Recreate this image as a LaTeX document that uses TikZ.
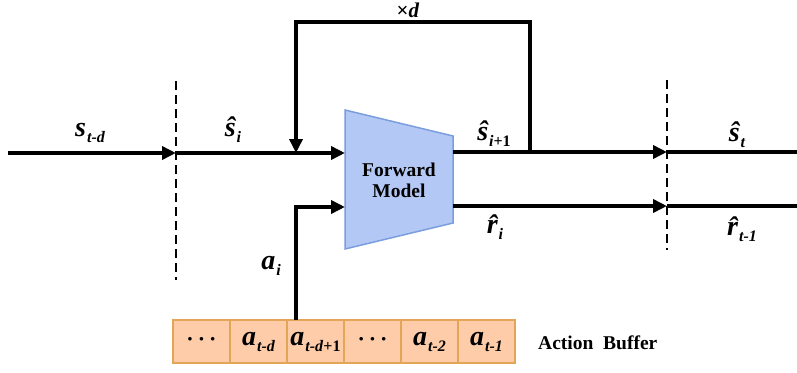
\documentclass[tikz,border=0pt]{standalone}
\usepackage{fontspec}
\setmainfont{Liberation Serif}
\usetikzlibrary{arrows.meta}
\definecolor{fmfill}{RGB}{180,200,246}
\definecolor{fmborder}{RGB}{122,158,221}
\definecolor{buffill}{RGB}{255,204,170}
\definecolor{bufborder}{RGB}{227,166,89}
\newcommand\vl[2]{{\fontsize{28}{28}\selectfont\bfseries\itshape #1}\kern1pt\raisebox{-6pt}{\fontsize{16}{16}\selectfont\bfseries\itshape #2}}
\newcommand\dotsrow{{\fontsize{22}{22}\selectfont\bfseries ·\hspace{4pt}·\hspace{4pt}·}}
\begin{document}
\begin{tikzpicture}[x=1pt,y=-1pt,
  conn/.style={line width=4pt},
  arr/.style={conn,-{Triangle[length=14pt,width=13pt]}},
  sep/.style={line width=2.8pt,dash pattern=on 9pt off 5pt},
  lab/.style={inner sep=0pt},
  cell/.style={draw=bufborder,fill=buffill,line width=2pt,minimum width=57pt,minimum height=43pt,inner sep=0pt},
  txt/.style={font=\fontsize{19.5}{22}\selectfont\bfseries,align=center,inner sep=0pt}]
\useasboundingbox (0,0) rectangle (797,372);
% separators
\coordinate (sepAtop) at (176,81);
\coordinate (sepAbot) at (176,280);
\coordinate (sepBtop) at (667,80);
\coordinate (sepBbot) at (667,250);
\draw[sep] (sepAtop) -- (sepAbot);
\draw[sep] (sepBtop) -- (sepBbot);
% forward model
\draw[fill=fmfill,draw=fmborder,line width=1.5pt] (345,110) -- (453,136) -- (453,223) -- (345,249) -- cycle;
\node[txt] (fm) at (399,180) {Forward\\[-1pt]Model};
\coordinate (fmin1) at (345,153);
\coordinate (fmin2) at (345,207);
\coordinate (fmout1) at (453,152);
\coordinate (fmout2) at (453,206);
% buffer
\node[cell] (c1) at (201.5,341.5) {\dotsrow};
\node[cell] (c2) at (258.5,341.5) {\vl{a}{t-d}};
\node[cell] (c3) at (315.5,341.5) {\vl{a}{t-d\textup{+1}}};
\node[cell] (c4) at (372.5,341.5) {\dotsrow};
\node[cell] (c5) at (429.5,341.5) {\vl{a}{t-2}};
\node[cell] (c6) at (486.5,341.5) {\vl{a}{t-1}};
\node[txt,anchor=west] (ab) at (538,343) {Action\ \ Buffer};
% connectors
\coordinate (in0) at (8,153);
\coordinate (dA) at (176,153);
\coordinate (dBs) at (667,152);
\coordinate (dBr) at (667,206);
\coordinate (outs) at (797,152);
\coordinate (outr) at (797,206);
\coordinate (fbs) at (530,152);
\coordinate (fbtr) at (530,22);
\coordinate (fbtl) at (296,22);
\coordinate (fbe) at (296,153);
\coordinate (abot) at (296,320);
\draw[arr] (in0) -- (dA);
\draw[arr] (dA) -- (fmin1);
\draw[arr] (fbs) -- (fbtr) -- (fbtl) -- (fbe);
\draw[arr] (fmout1) -- (dBs);
\draw[conn] (dBs) -- (outs);
\draw[arr] (fmout2) -- (dBr);
\draw[conn] (dBr) -- (outr);
\draw[arr] (abot) |- (fmin2);
% labels
\node[lab] (lsd) at (90,133) {\vl{s}{t-d}};
\node[lab] (lsi) at (233,130) {\vl{\^{s}}{i}};
\node[lab] (lsi1) at (494,134) {\vl{\^{s}}{i\textup{+1}}};
\node[lab] (lst) at (737,135) {\vl{\^{s}}{t}};
\node[lab] (lri) at (495,227) {\vl{\^{r}}{i}};
\node[lab] (lrt) at (742,229) {\vl{\^{r}}{t-1}};
\node[lab] (lai) at (271,266) {\vl{a}{i}};
\node[lab] (lxd) at (408,10) {\fontsize{21}{21}\selectfont\bfseries ×\textit{d}};
\end{tikzpicture}
\end{document}
